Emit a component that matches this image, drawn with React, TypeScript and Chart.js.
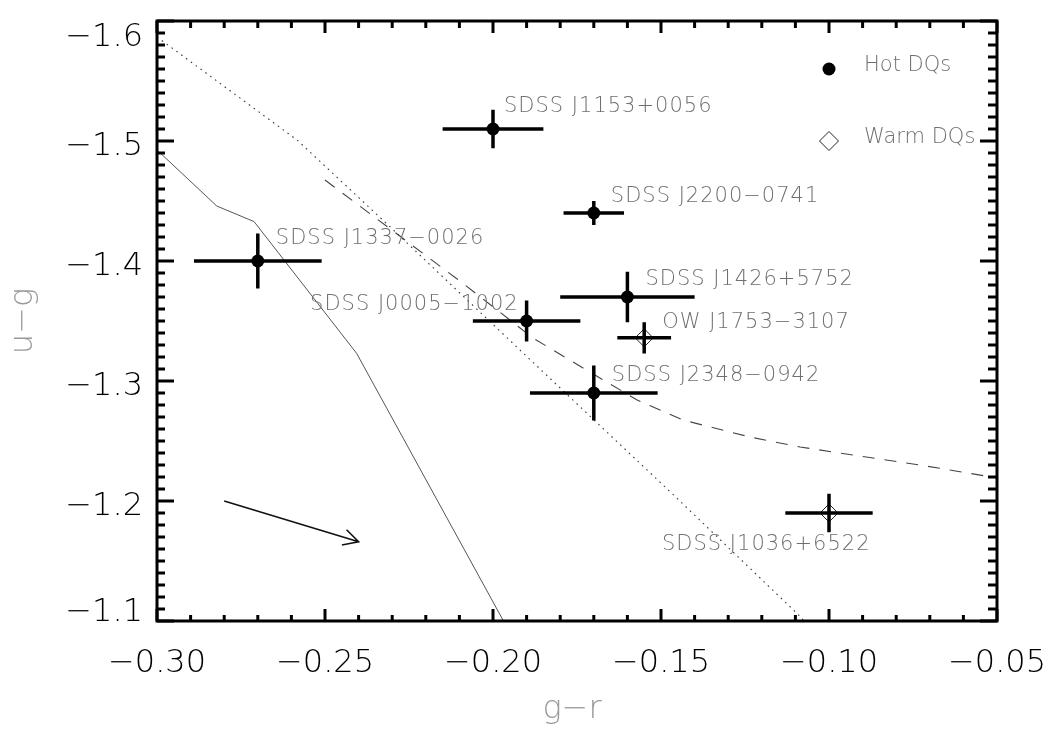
import { useEffect, useRef } from "react";
import { Chart, registerables } from "chart.js";

Chart.register(...registerables);

// Hot DQ white dwarfs: g−r, u−g colours with 1σ errors
const hotNames = ["SDSS J1153+0056", "SDSS J2200−0741", "SDSS J1337−0026", "SDSS J1426+5752", "SDSS J0005−1002", "SDSS J2348−0942"];
const hotGR = [-0.2, -0.17, -0.27, -0.16, -0.19, -0.17];
const hotUG = [-1.51, -1.44, -1.4, -1.37, -1.35, -1.29];
const hotGRErr = [0.015, 0.009, 0.019, 0.02, 0.016, 0.019];
const hotUGErr = [0.016, 0.01, 0.023, 0.021, 0.017, 0.023];

// Warm DQ white dwarfs
const warmNames = ["OW J1753−3107", "SDSS J1036+6522"];
const warmGR = [-0.155, -0.1];
const warmUG = [-1.336, -1.19];
const warmGRErr = [0.008, 0.013];
const warmUGErr = [0.013, 0.016];

// Model colour tracks
const solidGR = [-0.3, -0.2822, -0.2711, -0.2406, -0.191];
const solidUG = [-1.4925, -1.4458, -1.4328, -1.3231, -1.07];
const dottedGR = [-0.3, -0.2583, -0.2307, -0.1899, -0.1452, -0.108, -0.1055];
const dottedUG = [-1.5867, -1.5008, -1.4286, -1.3203, -1.2022, -1.1022, -1.09];
const dashedGR = [-0.25, -0.2083, -0.1881, -0.1732, -0.1571, -0.1435, -0.1235, -0.1086, -0.0929, -0.0729, -0.05];
const dashedUG = [-1.4675, -1.38, -1.3358, -1.3108, -1.2842, -1.2675, -1.2533, -1.245, -1.2383, -1.23, -1.2192];

// Reddening vector
const arrowGR = [-0.28, -0.24];
const arrowUG = [-1.2, -1.166];

// Axis ranges and tick steps
const xRange = [-0.3, -0.05];
const yRange = [-1.6, -1.1];
const xStep = 0.05;
const yStep = 0.1;

// Legend entries (marker placed in data units)
const legendLabels = ["Hot DQs", "Warm DQs"];
const legendGR = -0.1;
const legendUG = [-1.56, -1.5];

// Label placement relative to each marker, in pixels
const hotLabelDx = [11, 17, 18, 18, -8, 18];
const hotLabelDy = [-25, -19, -25, -20, -19, -20];
const hotLabelAlign = ["left", "left", "left", "left", "right", "left"];
const warmLabelDx = [18, -167];
const warmLabelDy = [-17.5, 29];
const warmLabelAlign = ["left", "left"];

const FONT = '"DejaVu Sans", "Liberation Sans", sans-serif';
const LABEL_GREY = "#6f6f6f";
const TITLE_GREY = "#9a9a9a";

const toPts = (xs: number[], ys: number[]) => xs.map((x, i) => ({ x, y: ys[i] }));
const fmt = (v: number, d: number) => v.toFixed(d).replace("-", "\u2212");

const decorPlugin = {
  id: "decor",
  afterDatasetsDraw(chart: any) {
    const { ctx, scales } = chart;
    const xs = scales.x;
    const ys = scales.y;
    ctx.save();
    // error bars
    ctx.strokeStyle = "#000";
    ctx.lineWidth = 3.5;
    ctx.lineCap = "butt";
    const bars = (gx: number[], gy: number[], ex: number[], ey: number[]) => {
      gx.forEach((x, i) => {
        const y = gy[i];
        ctx.beginPath();
        ctx.moveTo(xs.getPixelForValue(x - ex[i]), ys.getPixelForValue(y));
        ctx.lineTo(xs.getPixelForValue(x + ex[i]), ys.getPixelForValue(y));
        ctx.moveTo(xs.getPixelForValue(x), ys.getPixelForValue(y - ey[i]));
        ctx.lineTo(xs.getPixelForValue(x), ys.getPixelForValue(y + ey[i]));
        ctx.stroke();
      });
    };
    bars(hotGR, hotUG, hotGRErr, hotUGErr);
    bars(warmGR, warmUG, warmGRErr, warmUGErr);

    // reddening arrow
    const ax0 = xs.getPixelForValue(arrowGR[0]);
    const ay0 = ys.getPixelForValue(arrowUG[0]);
    const ax1 = xs.getPixelForValue(arrowGR[1]);
    const ay1 = ys.getPixelForValue(arrowUG[1]);
    const ang = Math.atan2(ay0 - ay1, ax0 - ax1);
    const head = 17;
    const spread = (28 * Math.PI) / 180;
    ctx.lineWidth = 1.6;
    ctx.strokeStyle = "#111";
    ctx.beginPath();
    ctx.moveTo(ax0, ay0);
    ctx.lineTo(ax1, ay1);
    ctx.moveTo(ax1 + head * Math.cos(ang + spread), ay1 + head * Math.sin(ang + spread));
    ctx.lineTo(ax1, ay1);
    ctx.lineTo(ax1 + head * Math.cos(ang - spread), ay1 + head * Math.sin(ang - spread));
    ctx.stroke();

    // object names
    ctx.fillStyle = LABEL_GREY;
    ctx.font = `200 21px ${FONT}`;
    (ctx as any).letterSpacing = "1px";
    ctx.textBaseline = "alphabetic";
    const names = (n: string[], gx: number[], gy: number[], dx: number[], dy: number[], al: string[]) => {
      n.forEach((s, i) => {
        ctx.textAlign = al[i];
        ctx.fillText(s, xs.getPixelForValue(gx[i]) + dx[i], ys.getPixelForValue(gy[i]) + dy[i] + 7.5);
      });
    };
    names(hotNames, hotGR, hotUG, hotLabelDx, hotLabelDy, hotLabelAlign);
    names(warmNames, warmGR, warmUG, warmLabelDx, warmLabelDy, warmLabelAlign);

    // legend
    const lx = xs.getPixelForValue(legendGR);
    const ly0 = ys.getPixelForValue(legendUG[0]);
    const ly1 = ys.getPixelForValue(legendUG[1]);
    ctx.fillStyle = "#000";
    ctx.beginPath();
    ctx.arc(lx, ly0, 6.5, 0, Math.PI * 2);
    ctx.fill();
    ctx.strokeStyle = "#222";
    ctx.lineWidth = 1;
    ctx.beginPath();
    ctx.moveTo(lx, ly1 - 9.5);
    ctx.lineTo(lx + 9.5, ly1);
    ctx.lineTo(lx, ly1 + 9.5);
    ctx.lineTo(lx - 9.5, ly1);
    ctx.closePath();
    ctx.stroke();
    ctx.fillStyle = LABEL_GREY;
    ctx.textAlign = "left";
    (ctx as any).letterSpacing = "0px";
    ctx.fillText(legendLabels[0], lx + 35, ly0 + 1.5);
    ctx.fillText(legendLabels[1], lx + 35, ly1 + 2);
    ctx.restore();
  },
  afterDraw(chart: any) {
    const { ctx, chartArea: a, scales } = chart;
    const xs = scales.x;
    const ys = scales.y;
    ctx.save();
    ctx.strokeStyle = "#000";
    ctx.lineWidth = 3;
    ctx.lineCap = "butt";
    const seg = (x0: number, y0: number, x1: number, y1: number) => {
      ctx.beginPath();
      ctx.moveTo(x0, y0);
      ctx.lineTo(x1, y1);
      ctx.stroke();
    };
    // x ticks, bottom and top, pointing inward
    const xt = xs.ticks.map((t: any) => t.value).sort((p: number, q: number) => p - q);
    xt.forEach((v: number, i: number) => {
      const px = xs.getPixelForValue(v);
      seg(px, a.bottom, px, a.bottom - 12);
      seg(px, a.top, px, a.top + 12);
      if (i < xt.length - 1) {
        for (let k = 1; k < 5; k++) {
          const m = xs.getPixelForValue(v + ((xt[i + 1] - v) * k) / 5);
          seg(m, a.bottom, m, a.bottom - 6);
          seg(m, a.top, m, a.top + 7);
        }
      }
    });
    // y ticks, left and right
    const yt = ys.ticks.map((t: any) => t.value).sort((p: number, q: number) => p - q);
    yt.forEach((v: number, i: number) => {
      const py = ys.getPixelForValue(v);
      seg(a.left, py, a.left + 17, py);
      seg(a.right, py, a.right - 17, py);
      if (i < yt.length - 1) {
        for (let k = 1; k < 10; k++) {
          const m = ys.getPixelForValue(v + ((yt[i + 1] - v) * k) / 10);
          seg(a.left, m, a.left + 8, m);
          seg(a.right, m, a.right - 9, m);
        }
      }
    });
    ctx.strokeRect(a.left, a.top, a.right - a.left, a.bottom - a.top);

    // tick labels
    ctx.fillStyle = "#000";
    ctx.font = `200 32px ${FONT}`;
    ctx.textBaseline = "alphabetic";
    ctx.textAlign = "center";
    xt.forEach((v: number) => {
      ctx.fillText(fmt(v, 2), xs.getPixelForValue(v), a.bottom + 51);
    });
    ctx.textAlign = "right";
    yt.forEach((v: number) => {
      const py = ys.getPixelForValue(v);
      // labels at the frame edges are pulled inside the plot height
      let off = 13.5;
      if (Math.abs(py - a.top) < 2) off = 25;
      if (Math.abs(py - a.bottom) < 2) off = 0;
      ctx.fillText(fmt(v, 1), a.left - 14, py + off);
    });

    // axis titles
    ctx.fillStyle = TITLE_GREY;
    ctx.textAlign = "center";
    ctx.fillText("g\u2212r", (a.left + a.right) / 2 - 5, a.bottom + 97);
    ctx.translate(32, (a.top + a.bottom) / 2);
    ctx.rotate(-Math.PI / 2);
    ctx.fillText("u\u2212g", 0, 0);
    ctx.restore();
  },
};

export default function App() {
  const ref = useRef<HTMLCanvasElement | null>(null);

  useEffect(() => {
    if (!ref.current) return;
    const track = (xs: number[], ys: number[], color: string, dash: number[], width: number) => ({
      type: "scatter" as const,
      data: toPts(xs, ys),
      showLine: true,
      borderColor: color,
      borderWidth: width,
      borderDash: dash,
      pointRadius: 0,
      fill: false,
      tension: 0,
    });
    const chart = new Chart(ref.current, {
      type: "scatter",
      data: {
        datasets: [
          track(solidGR, solidUG, "#555", [], 1),
          track(dottedGR, dottedUG, "#3a3a3a", [1.6, 4.4], 1.1),
          track(dashedGR, dashedUG, "#444", [12, 10], 1.1),
          {
            label: "Hot DQs",
            data: toPts(hotGR, hotUG),
            pointStyle: "circle",
            pointRadius: 6.5,
            backgroundColor: "#000",
            borderWidth: 0,
          },
          {
            label: "Warm DQs",
            data: toPts(warmGR, warmUG),
            pointStyle: "rectRot",
            pointRadius: 9,
            backgroundColor: "rgba(0,0,0,0)",
            borderColor: "#222",
            borderWidth: 1,
          },
        ],
      },
      options: {
        animation: false,
        responsive: false,
        devicePixelRatio: 1,
        layout: { padding: { left: 0, right: 66, top: 21, bottom: 0 } },
        plugins: { legend: { display: false }, tooltip: { enabled: false } },
        scales: {
          x: {
            type: "linear",
            min: xRange[0],
            max: xRange[1],
            ticks: { display: false, stepSize: xStep },
            grid: { display: false },
            border: { display: false },
            afterFit: (s: any) => {
              s.height = 120;
            },
          },
          y: {
            type: "linear",
            reverse: true,
            min: yRange[0],
            max: yRange[1],
            ticks: { display: false, stepSize: yStep },
            grid: { display: false },
            border: { display: false },
            afterFit: (s: any) => {
              s.width = 157;
            },
          },
        },
      },
      plugins: [decorPlugin],
    } as any);
    return () => chart.destroy();
  }, []);

  return (
    <div style={{ position: "fixed", left: 0, top: 0, width: 1063, height: 741, background: "#fff" }}>
      <canvas ref={ref} width={1063} height={741} />
    </div>
  );
}
